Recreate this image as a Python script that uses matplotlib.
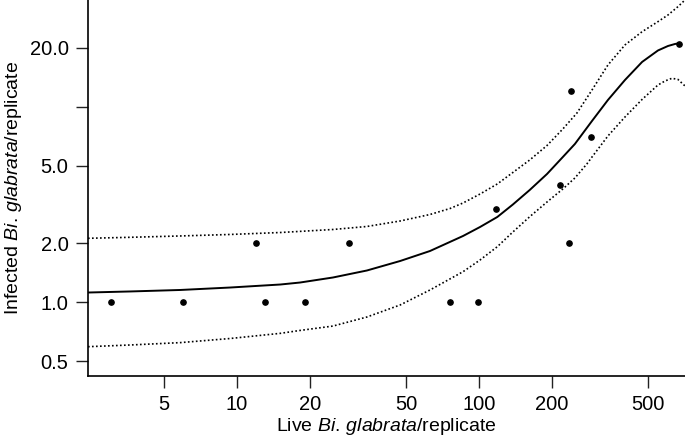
import numpy as np
import matplotlib
matplotlib.use('Agg')
import matplotlib.pyplot as plt

plt.rcParams['font.family'] = ['Liberation Sans', 'DejaVu Sans']
plt.rcParams['mathtext.fontset'] = 'custom'
plt.rcParams['mathtext.rm'] = 'Liberation Sans'
plt.rcParams['mathtext.it'] = 'Liberation Sans:italic'

# observed replicates
live = [3, 6, 12, 13, 19, 29, 76, 99, 117, 216, 235, 239, 290, 672]
infected = [1, 1, 2, 1, 1, 2, 1, 1, 3, 4, 2, 12, 7, 21]

# fitted curve and confidence band
fit_x = [2.42, 3.61, 5.81, 9.36, 15.1, 18.2, 24.9, 34.4, 47.2, 62.7, 85.9, 101, 119,
         138, 162, 191, 222, 249, 293, 341, 401, 472, 549, 604, 646, 671]
fit_y = [1.122, 1.136, 1.156, 1.190, 1.233, 1.262, 1.339, 1.454, 1.626, 1.829, 2.183,
         2.427, 2.730, 3.162, 3.751, 4.529, 5.530, 6.447, 8.452, 10.82, 13.69, 16.93,
         19.38, 20.43, 20.92, 21.09]

up_x = [2.42, 3.61, 5.81, 9.36, 15.1, 24.9, 34.4, 47.2, 62.7, 75.9, 85.9, 101, 119,
        138, 162, 191, 222, 254, 293, 341, 401, 472, 549, 604, 664, 710]
up_y = [2.124, 2.149, 2.183, 2.222, 2.274, 2.356, 2.441, 2.604, 2.811, 3.017, 3.219,
        3.578, 4.026, 4.610, 5.340, 6.334, 7.691, 9.287, 12.17, 16.34, 20.68, 24.17,
        27.21, 29.43, 32.45, 35.12]

lo_x = [2.42, 3.61, 5.81, 9.36, 15.1, 18.2, 24.9, 34.4, 47.2, 62.7, 85.9, 101, 119,
        138, 162, 191, 222, 249, 279, 293, 341, 401, 472, 549, 587, 627, 664, 710]
lo_y = [0.593, 0.605, 0.622, 0.653, 0.694, 0.718, 0.756, 0.841, 0.969, 1.156, 1.434,
        1.646, 1.924, 2.288, 2.739, 3.257, 3.796, 4.320, 5.095, 5.530, 7.085, 8.857,
        10.89, 12.91, 13.53, 13.97, 13.78, 12.76]

xticks = [5, 10, 20, 50, 100, 200, 500]
yticks = [0.5, 1, 2, 5, 10, 20]
ylabels = ['0.5', '1.0', '2.0', '5.0', '', '20.0']

fig = plt.figure(figsize=(6.85, 4.47), dpi=100)
ax = fig.add_axes([88/685, 1-376/447, 597/685, 376/447])

ax.plot(fit_x, fit_y, color='black', lw=1.4)
ax.plot(up_x, up_y, color='black', lw=1.2, linestyle=(0, (1, 1.4)))
ax.plot(lo_x, lo_y, color='black', lw=1.2, linestyle=(0, (1, 1.4)))
ax.plot(live, infected, 'o', color='black', ms=3.8, clip_on=False)

ax.set_xscale('log')
ax.set_yscale('log')
ax.set_xlim(2.42, 710)
ax.set_ylim(0.42, 35.1)

ax.set_xticks(xticks)
ax.set_xticklabels([str(t) for t in xticks])
ax.set_yticks(yticks)
ax.set_yticklabels(ylabels)
ax.minorticks_off()
ax.tick_params(length=8.5, width=1, pad=5.5, labelsize=14.5, color='#222222')

for s in ['top', 'right']:
    ax.spines[s].set_visible(False)
for s in ['left', 'bottom']:
    ax.spines[s].set_linewidth(1.2)

ax.set_xlabel(r'Live $Bi.\,glabrata$/replicate', fontsize=14, labelpad=1)
ax.set_ylabel(r'Infected $Bi.\,glabrata$/replicate', fontsize=14, labelpad=4)

fig.savefig('out.png', dpi=100)
